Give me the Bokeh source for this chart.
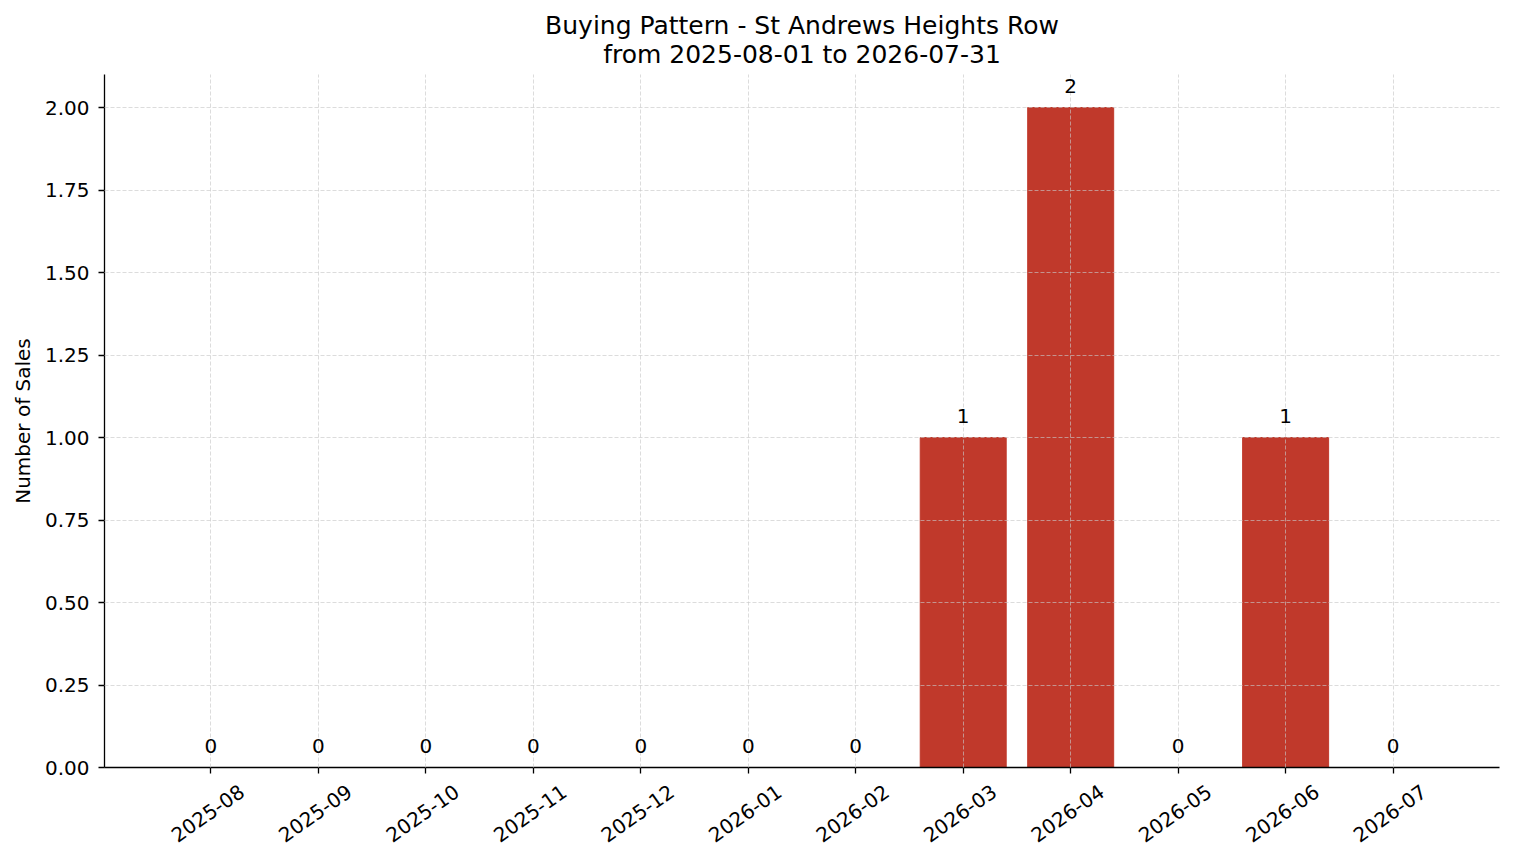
from bokeh.plotting import figure
from bokeh.models import ColumnDataSource, FixedTicker, Range1d, LabelSet, Title, LinearAxis
from bokeh.core.properties import value
from bokeh.embed import file_html
from bokeh.resources import INLINE

months = ["2025-08", "2025-09", "2025-10", "2025-11", "2025-12", "2026-01",
          "2026-02", "2026-03", "2026-04", "2026-05", "2026-06", "2026-07"]
sales = [0, 0, 0, 0, 0, 0, 0, 1, 2, 0, 1, 0]
y_ticks = [0.0, 0.25, 0.5, 0.75, 1.0, 1.25, 1.5, 1.75, 2.0]
title_1 = "Buying Pattern - St Andrews Heights Row"
title_2 = "from 2025-08-01 to 2026-07-31"

FONT = "DejaVu Sans"
FS = "20px"
LABEL_SHIFT = 0.29  # rotated month labels are centred on their ticks
xs = list(range(len(months)))
src = ColumnDataSource(dict(x=xs, y=sales, lab=[str(v) for v in sales]))

p = figure(width=1506, height=855, output_backend="svg", toolbar_location=None,
           x_range=Range1d(-0.99, 11.99), y_range=Range1d(0, 2.1),
           title=title_1,
           min_border_left=104, min_border_right=7, min_border_top=74, min_border_bottom=88)

p.title.align = "center"
p.title.text_font = FONT
p.title.text_font_size = "25px"
p.title.text_font_style = "normal"
p.title.text_color = "black"
p.title.standoff = -16

t2 = Title(text=title_2, align="center", text_font=FONT, text_font_size="25px",
           text_font_style="normal", text_color="black", standoff=12)
p.add_layout(t2, "above")

p.vbar(x="x", top="y", width=0.8, bottom=0, source=src, color="#c0392b")

labels = LabelSet(x="x", y="y", text="lab", source=src, text_align="center",
                  text_baseline="bottom", y_offset=15, text_font=value(FONT),
                  text_font_size=value(FS), text_color="black")
p.add_layout(labels)

p.yaxis.ticker = FixedTicker(ticks=y_ticks)
p.yaxis.major_label_overrides = {t: f"{t:.2f}" for t in y_ticks}
p.yaxis.axis_label = "Number of Sales"
p.yaxis.major_label_standoff = 9
p.yaxis.axis_label_standoff = 7

main_x = p.xaxis[0]
main_x.ticker = FixedTicker(ticks=xs)
main_x.major_label_overrides = {i: "" for i in xs}
main_x.major_label_text_font_size = "1px"
main_x.major_label_standoff = 0

for ax in (main_x, p.yaxis[0]):
    ax.axis_line_color = "black"
    ax.axis_line_width = 1.3
    ax.major_tick_line_color = "black"
    ax.major_tick_line_width = 1.3
    ax.major_tick_out = 6
    ax.major_tick_in = 0
    ax.minor_tick_line_color = None
    ax.axis_label_text_font = FONT
    ax.axis_label_text_font_size = FS
    ax.axis_label_text_font_style = "normal"
    ax.axis_label_text_color = "black"
p.yaxis.major_label_text_font = FONT
p.yaxis.major_label_text_font_size = FS
p.yaxis.major_label_text_color = "black"

# second axis carrying the rotated month labels (no line, no ticks)
shifted = [x + LABEL_SHIFT for x in xs]
lab_axis = LinearAxis(ticker=FixedTicker(ticks=shifted),
                      major_label_overrides={s: m for s, m in zip(shifted, months)},
                      major_label_orientation=0.6109,
                      axis_line_color=None, major_tick_line_color=None,
                      minor_tick_line_color=None, major_tick_in=0, major_tick_out=0,
                      minor_tick_in=0, minor_tick_out=0,
                      major_label_standoff=16,
                      major_label_text_font=FONT, major_label_text_font_size=FS,
                      major_label_text_color="black")
p.add_layout(lab_axis, "below")

for g in (p.xgrid, p.ygrid):
    g.grid_line_color = "#c8c8c8"
    g.grid_line_dash = "4 2"
    g.grid_line_width = 0.8
    g.grid_line_alpha = 0.8
    g.level = "annotation"

p.outline_line_color = None
p.background_fill_color = "white"
p.border_fill_color = "white"

open("out.html", "w").write(file_html(p, INLINE))
